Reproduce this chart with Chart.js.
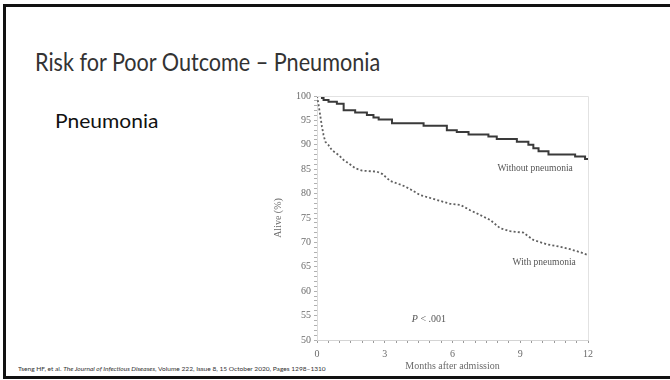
<!DOCTYPE html>
<html>
<head>
<meta charset="utf-8">
<script src="https://cdn.jsdelivr.net/npm/chart.js@4/dist/chart.umd.min.js"></script>
<style>
  html, body { margin: 0; padding: 0; background: #fff; }
  body { width: 670px; height: 380px; position: relative; overflow: hidden; }
  #frame {
    position: absolute; left: 3px; top: 4px; width: 720px; height: 375px;
    box-sizing: border-box; border: 3px solid #111; border-right: none;
  }
  .slideText { position: absolute; white-space: nowrap; font-family: Lato, "Open Sans", sans-serif; transform-origin: 0 50%; }
  #title { left: 35px; top: 47px; font-size: 24.5px; line-height: 30px; color: #333; }
  #subtitle { left: 55px; top: 108px; font-size: 20px; line-height: 24px; color: #111; }
  #source { left: 18px; top: 364px; font-size: 6.5px; line-height: 10px; color: #333; }
  #chart { position: absolute; left: 0; top: 0; }
</style>
</head>
<body>
<div id="frame"></div>
<div id="title" class="slideText" data-span="345">Risk for Poor Outcome – Pneumonia</div>
<div id="subtitle" class="slideText" data-span="103">Pneumonia</div>
<div id="source" class="slideText" data-span="308">Tseng HF, et al. <i>The Journal of Infectious Diseases</i>, Volume 222, Issue 8, 15 October 2020, Pages 1298–1310</div>
<canvas id="chart" width="670" height="380"></canvas>
<script>
// Kaplan–Meier survival, months after admission
const withoutMonths   = [0, 0.22, 0.29, 0.51, 0.88, 1.18, 1.69, 2.21, 2.5, 2.73, 3.32, 4.72, 5.75, 6.19, 6.71, 7.59, 7.96, 8.85, 9.36, 9.58, 9.81, 10.25, 11.43, 11.87, 12];
const withoutSurvival = [100, 99.6, 99.2, 98.8, 98.4, 97.1, 96.6, 96.1, 95.6, 95.2, 94.4, 93.9, 93.0, 92.6, 92.1, 91.7, 91.2, 90.6, 90.0, 89.3, 88.7, 88.0, 87.6, 87.1, 87.1];

const withMonths   = [0, 0.07, 0.15, 0.22, 0.29, 0.37, 0.5, 0.66, 0.96, 1.18, 1.4, 1.69, 2.0, 2.65, 2.9, 3.24, 3.83, 4.13, 4.57, 5.31, 5.9, 6.34, 6.78, 7.23, 7.67, 8.11, 8.55, 9.14, 9.58, 10.18, 10.77, 11.21, 11.65, 12];
const withSurvival = [100, 98.2, 95.8, 93.7, 92.0, 90.6, 90.0, 88.9, 87.9, 86.9, 86.2, 85.2, 84.7, 84.5, 84.0, 82.6, 81.6, 80.9, 79.7, 78.7, 77.9, 77.7, 76.6, 75.6, 74.6, 72.9, 72.3, 72.0, 70.5, 69.6, 69.1, 68.6, 68.0, 67.4];

const seriesNames = ["Without pneumonia", "With pneumonia"];
const xTickLabels = [0, 3, 6, 9, 12];
const yTickLabels = [50, 55, 60, 65, 70, 75, 80, 85, 90, 95, 100];
const pValueText = ".001";

// squeeze slide text horizontally to its intended span
document.querySelectorAll(".slideText").forEach(el => {
  const span = parseFloat(el.dataset.span);
  const w = el.offsetWidth;
  if (w > 0) el.style.transform = "scaleX(" + (span / w) + ")";
});

const toPoints = (xs, ys) => xs.map((x, i) => ({ x: x, y: ys[i] }));
const near = (list, v) => list.some(t => Math.abs(t - v) < 1e-6);

const serif = "'Liberation Serif', 'DejaVu Serif', serif";
const inkGrey = "#6a6a6a";

// light frame on the top and right of the plot, plus the in-plot labels
const plotDecor = {
  id: "plotDecor",
  afterDatasetsDraw(chart) {
    const { ctx, chartArea: a, scales: { x, y } } = chart;
    ctx.save();
    ctx.strokeStyle = "#e2e2e2";
    ctx.lineWidth = 1;
    ctx.beginPath();
    ctx.moveTo(a.left, a.top + 0.5);
    ctx.lineTo(a.right + 0.5, a.top + 0.5);
    ctx.lineTo(a.right + 0.5, a.bottom);
    ctx.stroke();

    ctx.fillStyle = "#555";
    ctx.textBaseline = "middle";
    ctx.textAlign = "center";
    ctx.font = "9.5px " + serif;
    ctx.fillText(seriesNames[0], x.getPixelForValue(9.66), y.getPixelForValue(85.2));
    ctx.fillText(seriesNames[1], x.getPixelForValue(10.06), y.getPixelForValue(65.8));

    // P < .001 with an italic P
    const px = x.getPixelForValue(4.2), py = y.getPixelForValue(54.3);
    ctx.textAlign = "left";
    ctx.font = "italic 10px " + serif;
    ctx.fillText("P", px, py);
    const w = ctx.measureText("P").width;
    ctx.font = "10px " + serif;
    ctx.fillText(" < " + pValueText, px + w, py);
    ctx.restore();
  }
};

new Chart(document.getElementById("chart"), {
  type: "line",
  data: {
    datasets: [
      {
        label: seriesNames[0],
        data: toPoints(withoutMonths, withoutSurvival),
        borderColor: "#3a3a3a",
        borderWidth: 2,
        stepped: "before",
        pointRadius: 0,
        fill: false
      },
      {
        label: seriesNames[1],
        data: toPoints(withMonths, withSurvival),
        borderColor: "#606060",
        borderWidth: 1.8,
        borderDash: [2, 2.2],
        tension: 0,
        pointRadius: 0,
        fill: false
      }
    ]
  },
  options: {
    responsive: false,
    animation: false,
    devicePixelRatio: 1,
    layout: { padding: { left: 260, top: 96, right: 82, bottom: 5 } },
    plugins: { legend: { display: false }, tooltip: { enabled: false } },
    scales: {
      x: {
        type: "linear",
        min: 0, max: 12,
        afterFit: s => { s.height = 35; },
        ticks: {
          stepSize: 0.5, maxTicksLimit: 1000, autoSkip: false, maxRotation: 0,
          padding: 5, color: inkGrey, font: { family: serif, size: 10 },
          callback: v => near(xTickLabels, v) ? String(Math.round(v)) : ""
        },
        grid: { drawOnChartArea: false, drawTicks: true, tickLength: 3, tickColor: "#9a9a9a" },
        border: { color: "#d4d4d4" },
        title: {
          display: true, text: "Months after admission", color: inkGrey,
          font: { family: serif, size: 10 }, padding: { top: 2, bottom: 3 }
        }
      },
      y: {
        min: 50, max: 100,
        afterFit: s => { s.width = 57; },
        ticks: {
          stepSize: 1, maxTicksLimit: 1000, autoSkip: false,
          padding: 3, color: inkGrey, font: { family: serif, size: 10 },
          callback: v => near(yTickLabels, v) ? String(Math.round(v)) : ""
        },
        grid: { drawOnChartArea: false, drawTicks: true, tickLength: 3, tickColor: "#b0b0b0" },
        border: { color: "#dcdcdc" },
        title: {
          display: true, text: "Alive (%)", color: inkGrey,
          font: { family: serif, size: 10 }, padding: { top: 12, bottom: 0 }
        }
      }
    }
  },
  plugins: [plotDecor]
});
</script>
</body>
</html>
